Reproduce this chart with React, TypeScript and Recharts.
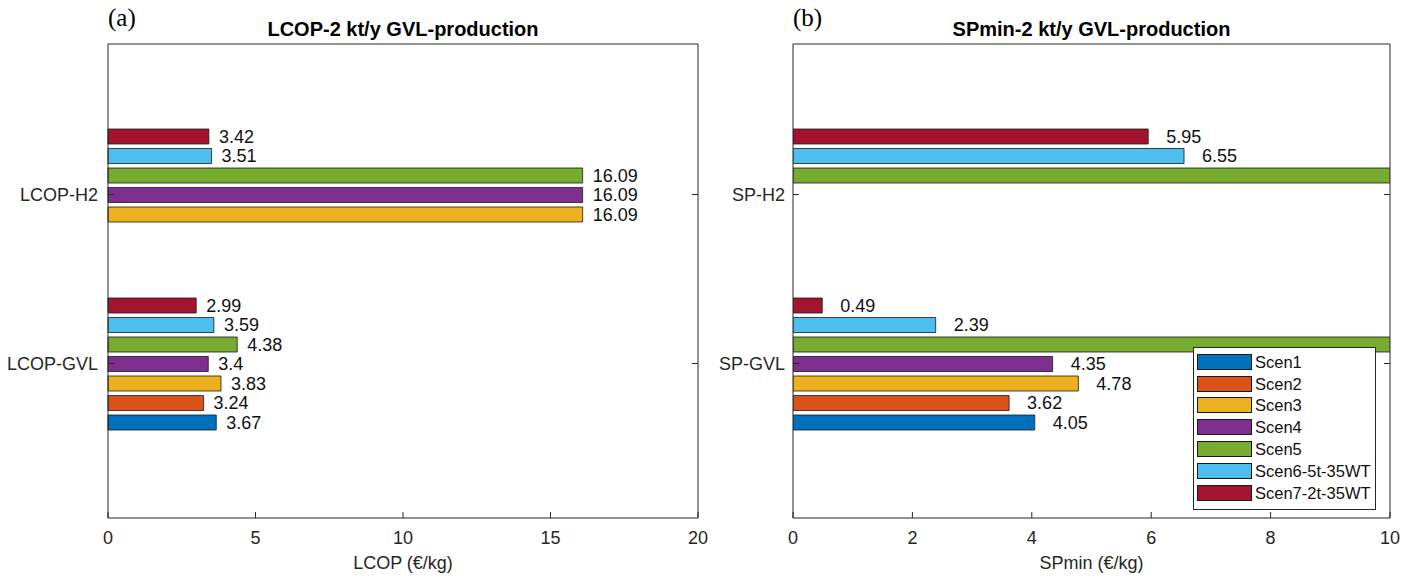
import React from 'react';
import { BarChart, Bar, XAxis, YAxis, Legend, LabelList, Label } from 'recharts';

const lcopCategories = ['LCOP-H2', 'LCOP-GVL'];
const spCategories = ['SP-H2', 'SP-GVL'];
const scenarioNames = ['Scen1', 'Scen2', 'Scen3', 'Scen4', 'Scen5', 'Scen6-5t-35WT', 'Scen7-2t-35WT'];
const scenarioColors = ['#0072BD', '#D95319', '#EDB120', '#7E2F8E', '#77AC30', '#4DBEEE', '#A2142F'];

// LCOP values, [H2, GVL]
const lcopScen1 = [null, 3.67];
const lcopScen2 = [null, 3.24];
const lcopScen3 = [16.09, 3.83];
const lcopScen4 = [16.09, 3.4];
const lcopScen5 = [16.09, 4.38];
const lcopScen6 = [3.51, 3.59];
const lcopScen7 = [3.42, 2.99];

// SPmin values, [H2, GVL] (Scen5 runs beyond the axis limit)
const spScen1 = [null, 4.05];
const spScen2 = [null, 3.62];
const spScen3 = [null, 4.78];
const spScen4 = [null, 4.35];
const spScen5 = [18.5, 12.2];
const spScen6 = [6.55, 2.39];
const spScen7 = [5.95, 0.49];

const lcopTicks = [0, 5, 10, 15, 20];
const spTicks = [0, 2, 4, 6, 8, 10];

const buildRows = (cats: string[], series: (number | null)[][]) =>
  cats.map((cat, i) => {
    const row: any = { cat };
    series.forEach((s, k) => {
      row['s' + (k + 1)] = s[i];
    });
    return row;
  });

const lcopRows = buildRows(lcopCategories, [lcopScen1, lcopScen2, lcopScen3, lcopScen4, lcopScen5, lcopScen6, lcopScen7]);
const spRows = buildRows(spCategories, [spScen1, spScen2, spScen3, spScen4, spScen5, spScen6, spScen7]);

const AXIS_COLOR = '#262626';
const FONT = '"Liberation Sans", Arial, Helvetica, sans-serif';

const makeValueLabel = (offset: number, max: number) => (props: any) => {
  const vb = props.viewBox || {};
  const x = props.x ?? vb.x;
  const y = props.y ?? vb.y;
  const w = props.width ?? vb.width;
  const h = props.height ?? vb.height;
  const v = props.value;
  if (v === null || v === undefined || v > max) return null;
  return (
    <text x={x + w + offset} y={y + h / 2} dy="0.36em" fontSize={18} fill="#111" fontFamily={FONT}>
      {String(v)}
    </text>
  );
};

const LegendBox = () => (
  <div
    style={{
      width: 181,
      height: 158,
      background: '#fff',
      border: '1px solid #262626',
      fontFamily: FONT,
      fontSize: 16.5,
      color: '#111',
      boxSizing: 'content-box',
      paddingTop: 3,
      textAlign: 'left',
    }}
  >
    {scenarioNames.map((n, k) => (
      <div
        key={n}
        style={{ display: 'flex', alignItems: 'center', height: 21.8, marginLeft: 3, whiteSpace: 'nowrap' }}
      >
        <div
          style={{
            width: 53,
            height: 14,
            flex: '0 0 auto',
            background: scenarioColors[k],
            border: '1px solid #1a1a1a',
            marginRight: 3,
          }}
        />
        <span style={{ lineHeight: '18px', whiteSpace: 'nowrap' }}>{n}</span>
      </div>
    ))}
  </div>
);

type PanelProps = {
  rows: any[];
  width: number;
  marginRight: number;
  yAxisWidth: number;
  yTickMargin: number;
  domainMax: number;
  ticks: number[];
  title: string;
  xLabel: string;
  labelOffset: number;
  clip: boolean;
  legend: boolean;
};

const Panel = (p: PanelProps) => {
  const order = [6, 5, 4, 3, 2, 1, 0];
  const labelRenderer = makeValueLabel(p.labelOffset, p.domainMax);
  return (
    <BarChart
      width={p.width}
      height={579}
      data={p.rows}
      layout="vertical"
      margin={{ top: 44, right: p.marginRight, bottom: 0, left: 0 }}
      barGap={4.5}
      barSize={15}
    >
      <XAxis
        type="number"
        domain={[0, p.domainMax]}
        ticks={p.ticks}
        allowDataOverflow={p.clip}
        height={61}
        tickSize={-6}
        tickMargin={19}
        tick={{ fontSize: 18, fill: AXIS_COLOR }}
        stroke={AXIS_COLOR}
        interval={0}
      >
        <Label value={p.xLabel} position="insideBottom" offset={10} style={{ fontSize: 18, fill: AXIS_COLOR }} />
      </XAxis>
      <XAxis
        xAxisId="top"
        type="number"
        orientation="top"
        mirror
        domain={[0, p.domainMax]}
        ticks={p.ticks}
        tickSize={6}
        tick={() => <g />}
        stroke={AXIS_COLOR}
        interval={0}
      >
        <Label value={p.title} position="top" offset={8} style={{ fontSize: 20, fontWeight: 'bold', fill: '#000' }} />
      </XAxis>
      <YAxis
        type="category"
        dataKey="cat"
        width={p.yAxisWidth}
        padding={{ top: 66, bottom: 70 }}
        tickSize={-6}
        tickMargin={p.yTickMargin}
        tick={{ fontSize: 18, fill: AXIS_COLOR }}
        stroke={AXIS_COLOR}
        interval={0}
      />
      <YAxis
        yAxisId="right"
        type="category"
        dataKey="cat"
        orientation="right"
        mirror
        padding={{ top: 66, bottom: 70 }}
        tickSize={6}
        tick={() => <g />}
        stroke={AXIS_COLOR}
        interval={0}
      />
      {order.map((k) => (
        <Bar
          key={k}
          dataKey={'s' + (k + 1)}
          name={scenarioNames[k]}
          fill={scenarioColors[k]}
          stroke="#1a1a1a"
          strokeWidth={0.8}
          isAnimationActive={false}
        >
          <LabelList dataKey={'s' + (k + 1)} content={labelRenderer} />
        </Bar>
      ))}
      {p.legend && (
        <Legend
          layout="vertical"
          align="center"
          verticalAlign="middle"
          content={() => <LegendBox />}
          wrapperStyle={{ position: 'absolute', left: 477, top: 347, width: 183, height: 162 }}
        />
      )}
    </BarChart>
  );
};

export default function App() {
  return (
    <div
      style={{
        position: 'relative',
        width: 1416,
        height: 579,
        margin: '-8px 0 0 -8px',
        background: '#fff',
        fontFamily: FONT,
        overflow: 'hidden',
      }}
    >
      <div style={{ position: 'absolute', left: 0, top: 0 }}>
        <Panel
          rows={lcopRows}
          width={716}
          marginRight={18}
          yAxisWidth={108}
          yTickMargin={16}
          domainMax={20}
          ticks={lcopTicks}
          title="LCOP-2 kt/y GVL-production"
          xLabel="LCOP (€/kg)"
          labelOffset={10}
          clip={false}
          legend={false}
        />
      </div>
      <div style={{ position: 'absolute', left: 716, top: 0 }}>
        <Panel
          rows={spRows}
          width={700}
          marginRight={26}
          yAxisWidth={77}
          yTickMargin={14}
          domainMax={10}
          ticks={spTicks}
          title="SPmin-2 kt/y GVL-production"
          xLabel="SPmin (€/kg)"
          labelOffset={18}
          clip={true}
          legend={true}
        />
      </div>
      <div style={{ position: 'absolute', left: 108, top: 4, fontFamily: '"Liberation Serif", "Times New Roman", serif', fontSize: 25, color: '#000' }}>(a)</div>
      <div style={{ position: 'absolute', left: 793, top: 4, fontFamily: '"Liberation Serif", "Times New Roman", serif', fontSize: 25, color: '#000' }}>(b)</div>
    </div>
  );
}
